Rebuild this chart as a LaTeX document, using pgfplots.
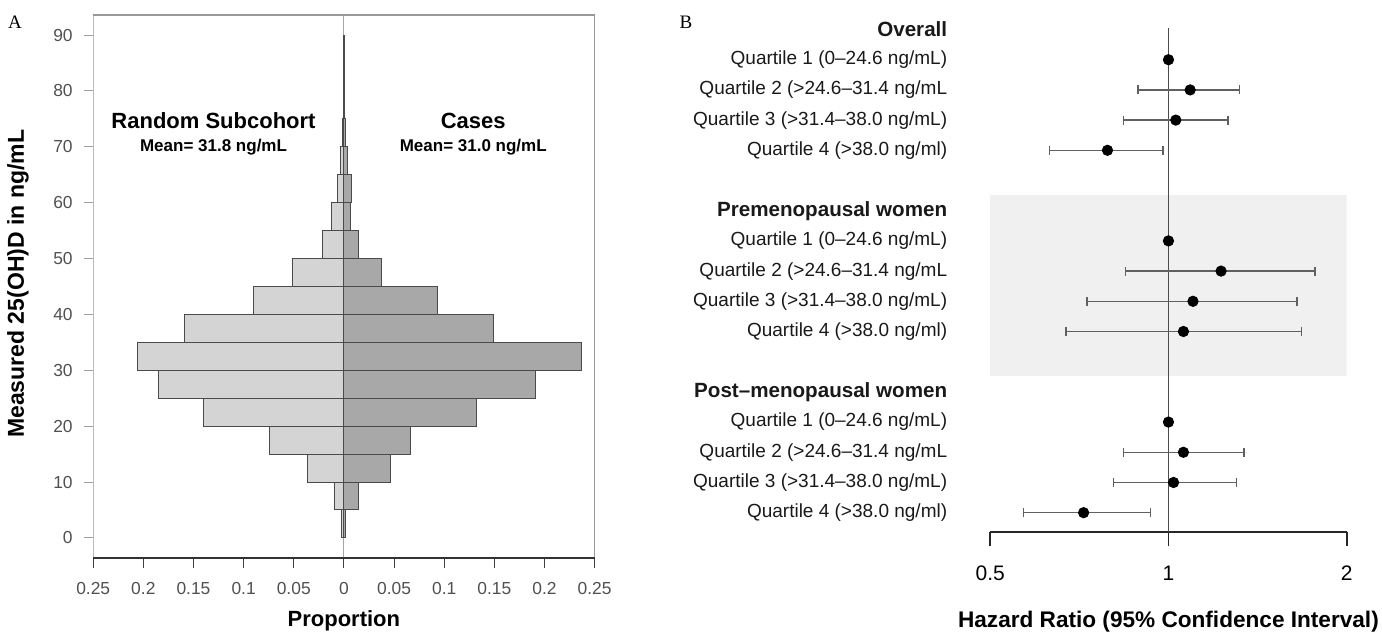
\documentclass[border=0pt]{standalone}
\usepackage{fontspec}
\setmainfont{Liberation Sans}
\newfontfamily\seriffont{Liberation Serif}
\usepackage{pgfplots}
\pgfplotsset{compat=1.18}
\definecolor{subc}{HTML}{D4D4D4}
\definecolor{cases}{HTML}{A8A8A8}
\definecolor{edge}{HTML}{4A4A4A}
\definecolor{ticktxt}{HTML}{505050}
\definecolor{shade}{HTML}{F0F0F0}
\definecolor{cigray}{HTML}{606060}
\begin{document}
\begin{tikzpicture}
\useasboundingbox (0,0) rectangle (691pt,316.5pt);
\node[font=\seriffont\fontsize{9.5}{11}\selectfont] at (7.5pt,305.5pt) {A};
\node[font=\seriffont\fontsize{9.5}{11}\selectfont] at (343pt,305.5pt) {B};

% ---------------- Panel A ----------------
\begin{axis}[
  at={(46.6pt,37.5pt)}, anchor=south west,
  scale only axis, width=250.7pt, height=271.5pt,
  xmin=-0.25, xmax=0.25, ymin=-3.6, ymax=93.6,
  axis line style={draw=none},
  clip=false,
  tick align=outside,
  xtick pos=bottom, ytick pos=left,
  xtick={-0.25,-0.2,-0.15,-0.1,-0.05,0,0.05,0.1,0.15,0.2,0.25},
  xticklabels={0.25,0.2,0.15,0.1,0.05,0,0.05,0.1,0.15,0.2,0.25},
  ytick={0,10,20,30,40,50,60,70,80,90},
  major tick length=4.75pt,
  xtick style={draw=black!75, line width=0.5pt},
  ytick style={draw=gray!75, line width=0.5pt},
  /pgf/number format/assume math mode=true,
  ticklabel style={font=\fontsize{8.7}{10}\selectfont, text=ticktxt},
  xticklabel style={yshift=-4pt},
  yticklabel style={xshift=-2pt},
  xlabel={Proportion}, ylabel={Measured 25(OH)D in ng/mL},
  xlabel style={font=\fontsize{11}{13}\selectfont\bfseries, at={(axis description cs:0.5,-0.116)}, anchor=center},
  ylabel style={font=\fontsize{11.5}{13}\selectfont\bfseries, at={(axis description cs:-0.15,0.505)}, anchor=center},
]
\addplot[gray!70, line width=0.6pt] coordinates {(0,-3.6) (0,93.6)};
% Random subcohort (left)
\addplot[xbar interval, fill=subc, draw=edge, line width=0.5pt] coordinates {
 (-0.002,0) (-0.0095,5) (-0.036,10) (-0.0744,15) (-0.140,20) (-0.185,25)
 (-0.2055,30) (-0.159,35) (-0.090,40) (-0.051,45) (-0.0217,50) (-0.0126,55)
 (-0.0067,60) (-0.0033,65) (-0.0012,70) (-0.0008,75) (-0.0007,80) (-0.0007,85) (0,90)};
% Cases (right)
\addplot[xbar interval, fill=cases, draw=edge, line width=0.5pt] coordinates {
 (0.002,0) (0.0148,5) (0.0465,10) (0.0661,15) (0.1327,20) (0.191,25)
 (0.2366,30) (0.1496,35) (0.0937,40) (0.037,45) (0.0146,50) (0.0063,55)
 (0.0080,60) (0.0040,65) (0.0018,70) (0.0010,75) (0.0008,80) (0.0008,85) (0,90)};
\draw[gray!55, line width=0.6pt] (rel axis cs:0,0) -- (rel axis cs:0,1);
\draw[gray!80, line width=0.6pt] (rel axis cs:0,1) -- (rel axis cs:1,1) -- (rel axis cs:1,0);
\draw[black!80, line width=0.8pt] (rel axis cs:0,0) -- (rel axis cs:1,0);
\node[font=\fontsize{11}{13}\selectfont\bfseries] at (axis cs:-0.13,74.6) {Random Subcohort};
\node[font=\fontsize{8.5}{10}\selectfont\bfseries] at (axis cs:-0.13,70) {Mean= 31.8 ng/mL};
\node[font=\fontsize{11}{13}\selectfont\bfseries] at (axis cs:0.129,74.6) {Cases};
\node[font=\fontsize{8.5}{10}\selectfont\bfseries] at (axis cs:0.129,70) {Mean= 31.0 ng/mL};
\end{axis}

% ---------------- Panel B ----------------
\begin{axis}[
  at={(495.1pt,50.5pt)}, anchor=south west,
  scale only axis, width=178.25pt, height=252pt,
  xmode=log, log basis x=2, xmin=0.5, xmax=2,
  ymin=-16.64, ymax=0.05,
  axis x line*=bottom, axis y line*=left,
  y axis line style={draw=none},
  x axis line style={line width=0.8pt, black!85},
  xtick={0.5,1,2}, xticklabels={0.5,1,2},
  tick align=outside,
  major tick length=7pt,
  xtick style={line width=0.8pt, black!85},
  ytick style={draw=none},
  ytick={-16,-15,-14,-13,-12,-10,-9,-8,-7,-6,-4,-3,-2,-1,0},
  yticklabels={
    {Quartile 4 (>38.0 ng/ml)},
    {Quartile 3 (>31.4–38.0 ng/mL)},
    {Quartile 2 (>24.6–31.4 ng/mL},
    {Quartile 1 (0–24.6 ng/mL)},
    {\fontsize{10.3}{12}\selectfont\bfseries Post–menopausal women},
    {Quartile 4 (>38.0 ng/ml)},
    {Quartile 3 (>31.4–38.0 ng/mL)},
    {Quartile 2 (>24.6–31.4 ng/mL},
    {Quartile 1 (0–24.6 ng/mL)},
    {\fontsize{10.3}{12}\selectfont\bfseries Premenopausal women},
    {Quartile 4 (>38.0 ng/ml)},
    {Quartile 3 (>31.4–38.0 ng/mL)},
    {Quartile 2 (>24.6–31.4 ng/mL},
    {Quartile 1 (0–24.6 ng/mL)},
    {\fontsize{10.3}{12}\selectfont\bfseries Overall}},
  yticklabel style={font=\fontsize{9.5}{11}\selectfont, text=black!90, xshift=-11pt},
  xticklabel style={font=\fontsize{10.5}{12}\selectfont, yshift=-6.5pt},
  /pgf/number format/assume math mode=true,
  xlabel={Hazard Ratio (95\% Confidence Interval)},
  xlabel style={font=\fontsize{11.3}{13}\selectfont\bfseries, at={(axis description cs:0.5,-0.177)}, anchor=center},
  clip=false,
]
\addplot[draw=none, fill=shade] coordinates {(0.5,-5.48) (2,-5.48) (2,-11.47) (0.5,-11.47) (0.5,-5.48)};
\addplot[black!70, line width=0.6pt] coordinates {(1,0.05) (1,-16.64)};
\pgfplotsset{ci/.style={cigray, line width=0.75pt, mark=|, mark size=2.25pt, mark options={solid, cigray, line width=0.7pt}}}
% Overall
\addplot[ci] coordinates {(0.888,-2) (1.317,-2)};
\addplot[ci] coordinates {(0.839,-3) (1.260,-3)};
\addplot[ci] coordinates {(0.630,-4) (0.979,-4)};
% Premenopausal
\addplot[ci] coordinates {(0.847,-8) (1.769,-8)};
\addplot[ci] coordinates {(0.729,-9) (1.648,-9)};
\addplot[ci] coordinates {(0.671,-10) (1.678,-10)};
% Post-menopausal
\addplot[ci] coordinates {(0.839,-14) (1.341,-14)};
\addplot[ci] coordinates {(0.808,-15) (1.303,-15)};
\addplot[ci] coordinates {(0.569,-16) (0.932,-16)};
% Point estimates
\addplot[only marks, mark=*, mark size=2.6pt, black] coordinates {
 (1,-1) (1.088,-2) (1.029,-3) (0.789,-4)
 (1,-7) (1.227,-8) (1.100,-9) (1.060,-10)
 (1,-13) (1.060,-14) (1.020,-15) (0.719,-16)};
\end{axis}
\end{tikzpicture}
\end{document}
